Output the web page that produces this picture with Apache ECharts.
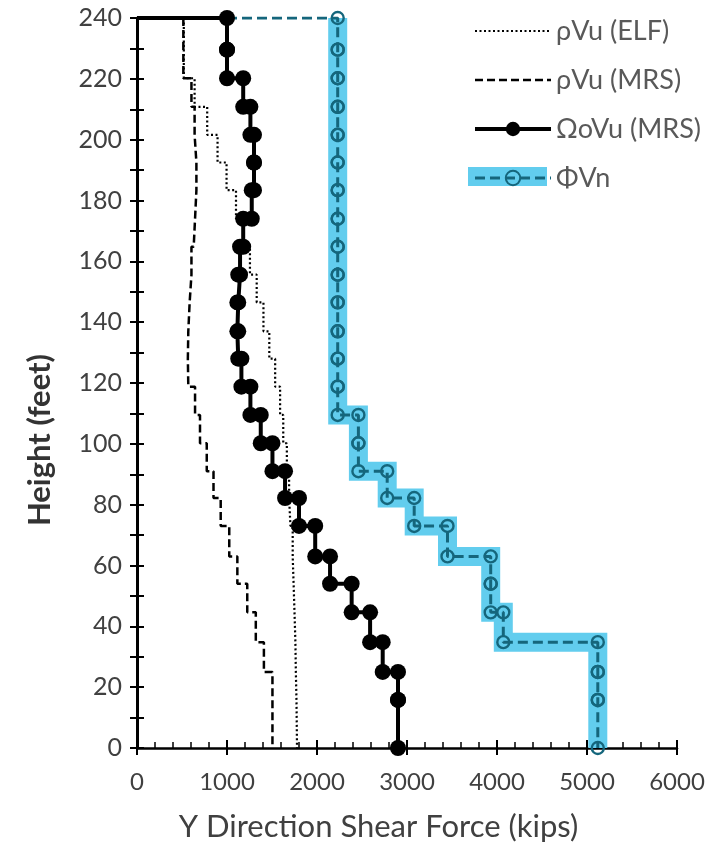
<!DOCTYPE html>
<html><head><meta charset="utf-8">
<script src="https://cdn.jsdelivr.net/npm/echarts@6/dist/echarts.min.js"></script>
<style>html,body{margin:0;padding:0;background:#fff}#c{width:715px;height:848px}</style>
</head><body><div id="c"></div>
<script>
// Floor levels (ft), bottom to top
const levels = [0, 15.8, 25.0, 34.8, 44.6, 54.0, 63.0, 73.0, 82.2, 91.0, 100.2, 109.5, 118.8, 128.0, 137.0, 146.5, 155.6, 164.8, 174.0, 183.4, 192.5, 201.6, 210.8, 220.2, 229.6, 240];
// Story shears (kips), story 1 (bottom) to story 25 (top)
const elfVu = [1778, 1772, 1765, 1760, 1750, 1740, 1730, 1705, 1690, 1665, 1625, 1590, 1535, 1470, 1405, 1330, 1255, 1180, 1100, 995, 895, 780, 640, 520, 520];
const mrsVu = [1505, 1505, 1410, 1320, 1225, 1115, 1025, 930, 850, 775, 700, 645, 570, 565, 570, 585, 605, 630, 645, 660, 660, 640, 605, 515, 515];
const omegaVu = [2900, 2900, 2730, 2590, 2385, 2145, 1980, 1800, 1645, 1505, 1375, 1260, 1160, 1125, 1115, 1125, 1145, 1180, 1275, 1300, 1300, 1260, 1180, 1000, 1000];
const phiVn = [5120, 5120, 5120, 4070, 3930, 3930, 3450, 3080, 2780, 2460, 2460, 2230, 2230, 2230, 2230, 2230, 2230, 2230, 2230, 2230, 2230, 2230, 2230, 2230, 2230];
const xTicks = {min: 0, max: 6000, step: 1000};
const yTicks = {min: 0, max: 240, step: 20};
const names = ['ρVu (ELF)', 'ρVu (MRS)', 'ΩoVu (MRS)', 'ΦVn'];

function stepPath(v) {
  const pts = [];
  for (let i = v.length; i >= 1; i--) {
    pts.push([v[i - 1], levels[i]]);
    pts.push([v[i - 1], levels[i - 1]]);
  }
  return pts;
}
const FONT = 'Lato, "Open Sans", sans-serif';
const BAND = '#62cdee';
const TEAL = '#15667c';
const plain = v => String(v);

const chart = echarts.init(document.getElementById('c'), null, {renderer: 'canvas'});
const gridBox = {left: 137, right: 38, top: 18, bottom: 100};
const xBase = {type: 'value', min: xTicks.min, max: xTicks.max, interval: xTicks.step, splitLine: {show: false}};
const yBase = {type: 'value', min: yTicks.min, max: yTicks.max, interval: yTicks.step, splitLine: {show: false}};

chart.setOption({
  animation: false,
  backgroundColor: '#fff',
  grid: [Object.assign({}, gridBox), Object.assign({}, gridBox)],
  xAxis: [
    Object.assign({}, xBase, {
      gridIndex: 0,
      axisLine: {lineStyle: {color: '#000', width: 2.5}},
      axisTick: {show: true, length: 7, lineStyle: {color: '#000', width: 2}},
      axisLabel: {margin: 22, fontSize: 24, color: '#404040', fontFamily: FONT, formatter: plain},
      name: 'Y Direction Shear Force (kips)',
      nameLocation: 'middle', nameGap: 63,
      nameTextStyle: {fontSize: 31, color: '#404040', fontFamily: FONT, padding: [0, 57, 0, 0]}
    }),
    Object.assign({}, xBase, {
      gridIndex: 1,
      axisLine: {show: false},
      axisTick: {show: true, inside: true, length: 8, lineStyle: {color: '#000', width: 2}},
      minorTick: {show: true, splitNumber: 5, length: 6, lineStyle: {color: '#000', width: 1.5}},
      axisLabel: {show: false}
    })
  ],
  yAxis: [
    Object.assign({}, yBase, {
      gridIndex: 0,
      axisLine: {show: true, lineStyle: {color: '#000', width: 3}},
      axisTick: {show: true, length: 7, lineStyle: {color: '#000', width: 2}},
      minorTick: {show: true, splitNumber: 2, length: 7, lineStyle: {color: '#000', width: 2}},
      axisLabel: {margin: 15, fontSize: 25, color: '#404040', fontFamily: FONT, formatter: plain},
      name: 'Height (feet)',
      nameLocation: 'middle', nameGap: 82,
      nameTextStyle: {fontSize: 31, fontWeight: 'bold', color: '#333', fontFamily: FONT, padding: [0, 114, 0, 0]}
    }),
    Object.assign({}, yBase, {
      gridIndex: 1,
      axisLine: {show: false},
      axisTick: {show: true, inside: true, length: 7, lineStyle: {color: '#000', width: 2}},
      minorTick: {show: true, splitNumber: 2, length: 7, lineStyle: {color: '#000', width: 2}},
      axisLabel: {show: false}
    })
  ],
  legend: {
    data: [
      {name: names[0], itemStyle: {color: 'rgba(0,0,0,0)', borderWidth: 0}, lineStyle: {width: 2.2}},
      {name: names[1], itemStyle: {color: 'rgba(0,0,0,0)', borderWidth: 0}, lineStyle: {width: 2.5}},
      {name: names[2], lineStyle: {width: 4}},
      {name: names[3], lineStyle: {width: 3}}
    ],
    orient: 'vertical',
    left: 468, top: 11,
    itemWidth: 76, itemHeight: 18, itemGap: 19,
    textStyle: {fontSize: 27, color: '#595959', fontFamily: FONT, lineHeight: 30},
    z: 10
  },
  graphic: [{
    type: 'rect', left: 468, top: 167, z: 0, silent: true,
    shape: {width: 79, height: 19}, style: {fill: BAND}
  }],
  series: [
    {
      type: 'line', data: stepPath(phiVn), symbol: 'none', silent: true, z: 1,
      lineStyle: {color: BAND, width: 19, cap: 'butt', join: 'miter'}
    },
    {
      name: names[0], type: 'line', data: stepPath(elfVu), symbol: 'none', z: 2,
      lineStyle: {color: '#000', width: 2.2, type: [2, 2.5]}
    },
    {
      name: names[1], type: 'line', data: stepPath(mrsVu), symbol: 'none', z: 2,
      lineStyle: {color: '#000', width: 2.5, type: [8, 4]}
    },
    {
      name: names[3], type: 'line', z: 3,
      data: [{value: [0, 240], symbol: 'none'}].concat(stepPath(phiVn)),
      symbol: 'circle', symbolSize: 12,
      itemStyle: {color: 'rgba(0,0,0,0)', borderColor: TEAL, borderWidth: 2.4},
      lineStyle: {color: TEAL, width: 3, type: [10, 5]}
    },
    {
      name: names[2], type: 'line', z: 4,
      data: [{value: [0, 240], symbol: 'none'}].concat(stepPath(omegaVu)),
      symbol: 'circle', symbolSize: 16,
      itemStyle: {color: '#000'},
      lineStyle: {color: '#000', width: 4}
    }
  ]
});
</script>
</body></html>
